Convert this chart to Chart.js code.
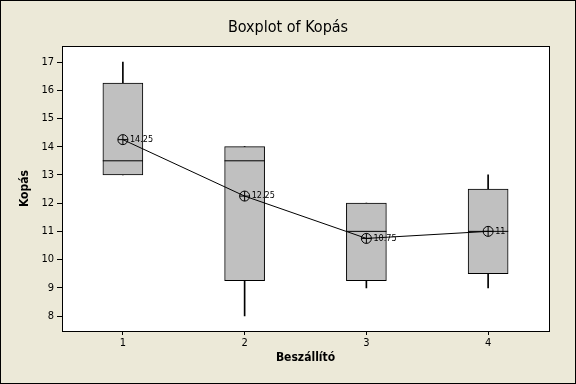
<!DOCTYPE html>
<html>
<head>
<meta charset="utf-8">
<script src="https://cdn.jsdelivr.net/npm/chart.js@4/dist/chart.umd.min.js"></script>
<style>
  html, body { margin: 0; padding: 0; background: #ECE9D8; }
  #wrap { width: 576px; height: 384px; position: relative; }
</style>
</head>
<body>
<div id="wrap"><canvas id="boxChart" width="576" height="384"></canvas></div>
<script>
// Boxplot of Kopás by Beszállító
const suppliers = [1, 2, 3, 4];
const lowWhisker = [13, 8, 9, 9];
const q1 = [13, 9.25, 9.25, 9.5];
const medians = [13.5, 13.5, 11, 11];
const q3 = [16.25, 14, 12, 12.5];
const highWhisker = [17, 14, 12, 13];
const means = [14.25, 12.25, 10.75, 11];
const meanLabels = ['14.25', '12.25', '10.75', '11'];
const yTicks = [8, 9, 10, 11, 12, 13, 14, 15, 16, 17];

const FONT = "'DejaVu Sans Condensed', 'DejaVu Sans', sans-serif";
const halfBox = 0.165;

// median segments, broken by gaps
const medianPts = [];
suppliers.forEach(function(s, i) {
  medianPts.push({ x: s - halfBox, y: medians[i] });
  medianPts.push({ x: s + halfBox, y: medians[i] });
  medianPts.push({ x: s, y: null });
});

const framePlugin = {
  id: 'frame',
  beforeDraw: function(chart) {
    const ctx = chart.ctx;
    const a = chart.chartArea;
    ctx.save();
    ctx.fillStyle = '#ECE9D8';
    ctx.fillRect(0, 0, chart.width, chart.height);
    ctx.fillStyle = '#ffffff';
    ctx.fillRect(a.left, a.top, a.right - a.left, a.bottom - a.top);
    ctx.restore();
  },
  afterDatasetsDraw: function(chart) {
    const ctx = chart.ctx;
    const a = chart.chartArea;
    const xs = chart.scales.x, ys = chart.scales.y;
    ctx.save();
    // mean labels
    ctx.fillStyle = '#000';
    ctx.font = '9px ' + FONT;
    ctx.textBaseline = 'middle';
    ctx.textAlign = 'left';
    suppliers.forEach(function(s, i) {
      ctx.fillText(meanLabels[i], xs.getPixelForValue(s) + 7, ys.getPixelForValue(means[i]));
    });
    // plot frame
    ctx.strokeStyle = '#000';
    ctx.lineWidth = 1;
    ctx.strokeRect(Math.round(a.left) + 0.5, Math.round(a.top) + 0.5,
      Math.round(a.right - a.left), Math.round(a.bottom - a.top));
    ctx.restore();
  },
  afterDraw: function(chart) {
    const ctx = chart.ctx;
    ctx.save();
    ctx.strokeStyle = '#000';
    ctx.lineWidth = 1;
    ctx.strokeRect(0.5, 0.5, chart.width - 1, chart.height - 1);
    ctx.restore();
  }
};

const ctx = document.getElementById('boxChart').getContext('2d');
new Chart(ctx, {
  type: 'bar',
  data: {
    datasets: [
      {
        type: 'line',
        label: 'mean cross',
        data: suppliers.map((s, i) => ({ x: s, y: means[i] })),
        showLine: false,
        pointStyle: 'cross',
        pointRadius: 5,
        borderColor: '#000',
        borderWidth: 1,
        order: 0
      },
      {
        type: 'line',
        label: 'mean',
        data: suppliers.map((s, i) => ({ x: s, y: means[i] })),
        borderColor: '#000',
        borderWidth: 1,
        pointStyle: 'circle',
        pointRadius: 5,
        pointBackgroundColor: 'rgba(0,0,0,0)',
        pointBorderColor: '#000',
        pointBorderWidth: 1,
        tension: 0,
        order: 1
      },
      {
        type: 'line',
        label: 'median',
        data: medianPts,
        borderColor: '#000',
        borderWidth: 1,
        pointRadius: 0,
        spanGaps: false,
        order: 2
      },
      {
        label: 'box',
        data: suppliers.map((s, i) => ({ x: s, y: [q1[i], q3[i]] })),
        backgroundColor: '#C0C0C0',
        borderColor: '#000',
        borderWidth: 1,
        borderSkipped: false,
        barThickness: 40,
        grouped: false,
        order: 3
      },
      {
        label: 'upper whisker',
        data: suppliers.map((s, i) => ({ x: s, y: [q3[i], highWhisker[i]] })),
        backgroundColor: '#000',
        borderWidth: 0,
        barThickness: 1,
        grouped: false,
        order: 4
      },
      {
        label: 'lower whisker',
        data: suppliers.map((s, i) => ({ x: s, y: [lowWhisker[i], q1[i]] })),
        backgroundColor: '#000',
        borderWidth: 0,
        barThickness: 1,
        grouped: false,
        order: 5
      }
    ]
  },
  options: {
    responsive: false,
    animation: false,
    events: [],
    layout: { padding: 0 },
    plugins: {
      legend: { display: false },
      tooltip: { enabled: false },
      title: {
        display: true,
        text: 'Boxplot of Kopás',
        color: '#000',
        font: { family: FONT, size: 16, weight: 'normal' },
        padding: { top: 18, bottom: 9 }
      }
    },
    scales: {
      x: {
        type: 'linear',
        min: 0.5,
        max: 4.5,
        offset: false,
        afterBuildTicks: function(scale) {
          scale.ticks = suppliers.map(v => ({ value: v }));
        },
        afterFit: function(scale) { scale.height = 53; },
        grid: { display: true, drawOnChartArea: false, drawTicks: true, tickLength: 4, color: '#000', offset: false },
        border: { display: false },
        ticks: { color: '#000', padding: 2, font: { family: FONT, size: 11 } },
        title: {
          display: true,
          text: 'Beszállító',
          color: '#000',
          font: { family: FONT, size: 12, weight: 'bold' },
          padding: { top: 0, bottom: 19 }
        }
      },
      y: {
        min: 7.47,
        max: 17.56,
        afterBuildTicks: function(scale) {
          scale.ticks = yTicks.map(v => ({ value: v }));
        },
        afterFit: function(scale) { scale.width = 62; },
        grid: { display: true, drawOnChartArea: false, drawTicks: true, tickLength: 5, color: '#000' },
        border: { display: false },
        ticks: { color: '#000', padding: 3, font: { family: FONT, size: 11 } },
        title: {
          display: true,
          text: 'Kopás',
          color: '#000',
          font: { family: FONT, size: 12, weight: 'bold' },
          padding: { top: 18, bottom: 0 }
        }
      },
      // empty right-hand margin so the title centres on the whole window
      yRight: {
        position: 'right',
        display: true,
        min: 0,
        max: 1,
        afterFit: function(scale) { scale.width = 27; },
        grid: { display: false },
        border: { display: false },
        ticks: { display: false }
      }
    }
  },
  plugins: [framePlugin]
});
</script>
</body>
</html>
